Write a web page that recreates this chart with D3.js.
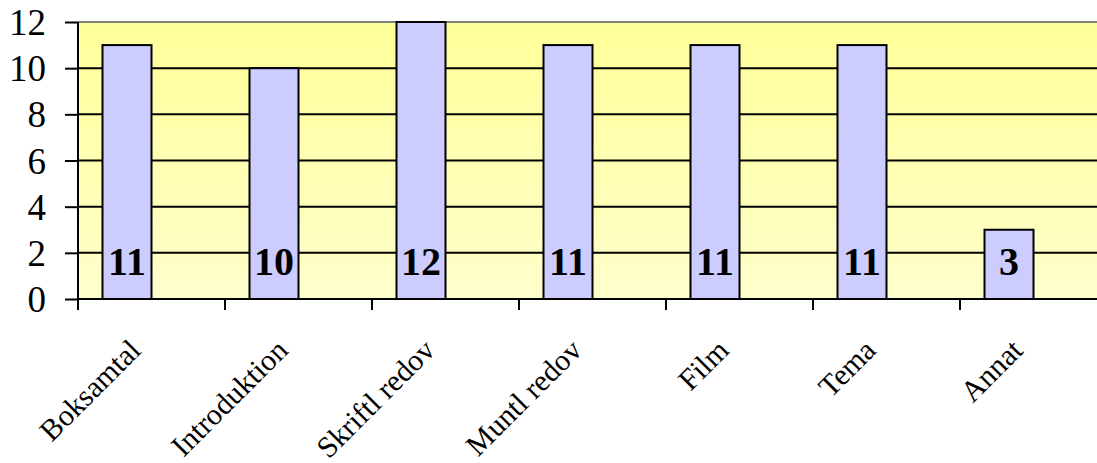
<!DOCTYPE html>
<html>
<head>
<meta charset="utf-8">
<script src="https://cdn.jsdelivr.net/npm/d3@7"></script>
<style>
  body { margin: 0; background: #fff; }
  svg { display: block; font-family: "Liberation Serif", "Times New Roman", serif; }
</style>
</head>
<body>
<script>
const categories = ["Boksamtal", "Introduktion", "Skriftl redov", "Muntl redov", "Film", "Tema", "Annat"];
const values = [11, 10, 12, 11, 11, 11, 3];
const series = ["Antal", ""]; // second slot of the cluster is empty
const yTicks = [0, 2, 4, 6, 8, 10, 12];

const W = 1097, H = 463;
const margin = { top: 22, left: 78, bottom: 164 };
const plotW = 147 * 7;
const plotH = H - margin.top - margin.bottom;

const svg = d3.select("body").append("svg")
  .attr("width", W)
  .attr("height", H);

const defs = svg.append("defs");
const grad = defs.append("linearGradient")
  .attr("id", "bg")
  .attr("x1", 0).attr("y1", 0)
  .attr("x2", 0).attr("y2", 1);
grad.append("stop").attr("offset", "0%").attr("stop-color", "#ffff99");
grad.append("stop").attr("offset", "100%").attr("stop-color", "#ffffcc");

const g = svg.append("g")
  .attr("transform", `translate(${margin.left},${margin.top})`);

const x = d3.scaleBand()
  .domain(categories)
  .range([0, plotW])
  .padding(0);

const x1 = d3.scaleBand()
  .domain(series)
  .range([0, x.bandwidth()])
  .paddingInner(0)
  .paddingOuter(0.5);

const y = d3.scaleLinear()
  .domain([0, 12])
  .range([plotH, 0]);

// plot background
g.append("rect")
  .attr("width", plotW)
  .attr("height", plotH)
  .attr("fill", "url(#bg)");

// top border
g.append("line")
  .attr("x1", 0).attr("x2", plotW)
  .attr("y1", 0).attr("y2", 0)
  .attr("stroke", "#808080")
  .attr("stroke-width", 2);

// gridlines
g.append("g")
  .selectAll("line")
  .data(yTicks.filter(d => d > 0 && d < 12))
  .join("line")
  .attr("x1", 0).attr("x2", plotW)
  .attr("y1", d => y(d)).attr("y2", d => y(d))
  .attr("stroke", "#000")
  .attr("stroke-width", 2);

// bars
g.append("g")
  .selectAll("rect")
  .data(values)
  .join("rect")
  .attr("x", (d, i) => x(categories[i]) + x1("Antal"))
  .attr("y", d => y(d))
  .attr("width", x1.bandwidth())
  .attr("height", d => y(0) - y(d))
  .attr("fill", "#ccccff")
  .attr("stroke", "#000")
  .attr("stroke-width", 2);

// value labels
g.append("g")
  .selectAll("text")
  .data(values)
  .join("text")
  .attr("x", (d, i) => x(categories[i]) + x1("Antal") + x1.bandwidth() / 2)
  .attr("y", y(0) - 24)
  .attr("text-anchor", "middle")
  .style("font-size", "40px")
  .style("font-weight", "bold")
  .text(d => d);

// y axis
const yAxis = g.append("g")
  .call(d3.axisLeft(y).tickValues(yTicks).tickSize(13).tickPadding(19));
yAxis.select(".domain").remove();
yAxis.selectAll(".tick line").attr("stroke", "#000").attr("stroke-width", 2);
yAxis.selectAll(".tick text")
  .style("font-size", "37px")
  .style("font-family", "Liberation Serif, serif")
  .attr("fill", "#000")
  .attr("dy", "0.34em");
g.append("line")
  .attr("x1", 0).attr("x2", 0)
  .attr("y1", 0).attr("y2", plotH)
  .attr("stroke", "#000")
  .attr("stroke-width", 2);

// x axis
const xTickPos = d3.range(categories.length + 1).map(i => i * x.step());
const xAxis = g.append("g")
  .attr("transform", `translate(0,${plotH})`);
xAxis.append("line")
  .attr("x1", 0).attr("x2", plotW)
  .attr("stroke", "#000")
  .attr("stroke-width", 2);
xAxis.selectAll(".xt")
  .data(xTickPos)
  .join("line")
  .attr("class", "xt")
  .attr("x1", d => d).attr("x2", d => d)
  .attr("y1", 0).attr("y2", 11)
  .attr("stroke", "#000")
  .attr("stroke-width", 2);
xAxis.selectAll(".xl")
  .data(categories)
  .join("text")
  .attr("class", "xl")
  .attr("text-anchor", "end")
  .attr("transform", d => `translate(${x(d) + x.bandwidth() / 2 - 9},${53}) rotate(-45)`)
  .style("font-size", "30px")
  .text(d => d);
</script>
</body>
</html>
